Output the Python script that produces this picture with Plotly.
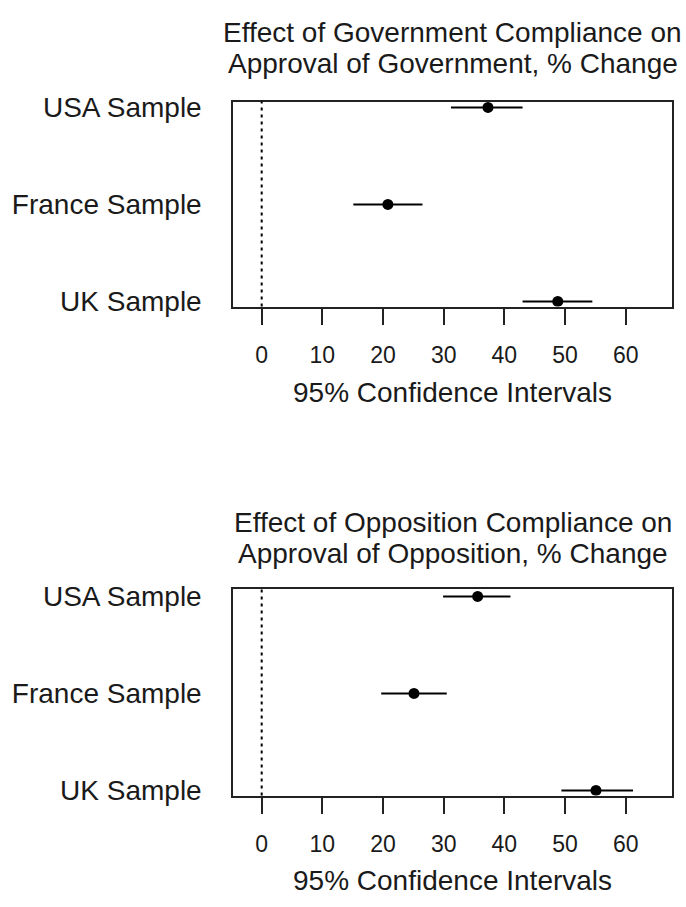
import plotly.graph_objects as go

W, H = 686, 907

samples = ["USA Sample", "France Sample", "UK Sample"]
ypos = [3, 2, 1]
x_ticks = [0, 10, 20, 30, 40, 50, 60]

gov_est = [37.3, 20.8, 48.8]
gov_lo = [31.2, 15.1, 43.0]
gov_hi = [43.0, 26.5, 54.5]

opp_est = [35.6, 25.1, 55.1]
opp_lo = [29.9, 19.7, 49.4]
opp_hi = [41.0, 30.5, 61.2]

titles_top = ["Effect of Government Compliance on", "Approval of Government, % Change"]
titles_bot = ["Effect of Opposition Compliance on", "Approval of Opposition, % Change"]
xlabel = "95% Confidence Intervals"

FONT = "Liberation Sans, Arial, sans-serif"
TXT = "#1a1a1a"

def py(pix):
    return 1 - pix / H

def px(pix):
    return pix / W

box_l, box_r = 233.3, 672.3
top_box = (94.7, 304.3)
bot_box = (593.0, 804.3)

fig = go.Figure()

for i, (est, lo, hi) in enumerate([(gov_est, gov_lo, gov_hi), (opp_est, opp_lo, opp_hi)]):
    xa = "x" if i == 0 else "x2"
    ya = "y" if i == 0 else "y2"
    fig.add_trace(go.Scatter(
        x=est, y=ypos, mode="markers", xaxis=xa, yaxis=ya,
        marker=dict(size=11, color="black"),
        error_x=dict(type="data", symmetric=False,
                     array=[h - e for h, e in zip(hi, est)],
                     arrayminus=[e - l for e, l in zip(est, lo)],
                     thickness=2, width=0, color="black"),
        showlegend=False, hoverinfo="skip"))
    fig.add_shape(type="line", xref=xa, yref=ya + " domain", x0=0, x1=0, y0=0, y1=1,
                  line=dict(color="black", width=2, dash="3px,4px"))

axis_common = dict(showline=True, mirror=True, linecolor="#222", linewidth=2,
                   showgrid=False, zeroline=False)

xcommon = dict(axis_common, range=[-4.68, 67.68], tickvals=x_ticks,
               ticks="outside", ticklen=16, tickwidth=2, tickcolor="#222",
               ticklabelstandoff=11,
               tickfont=dict(family=FONT, size=23, color=TXT),
               domain=[px(box_l), px(box_r)])
ycommon = dict(axis_common, tickvals=ypos, ticktext=samples, ticks="", ticklen=0,
               ticklabelstandoff=24,
               tickfont=dict(family=FONT, size=28, color=TXT))

fig.update_layout(
    width=W, height=H, margin=dict(l=0, r=0, t=0, b=0),
    paper_bgcolor="white", plot_bgcolor="white",
    xaxis=dict(xcommon, anchor="y"),
    yaxis=dict(ycommon, range=[0.947, 3.06], anchor="x",
               domain=[py(top_box[1]), py(top_box[0])]),
    xaxis2=dict(xcommon, anchor="y2"),
    yaxis2=dict(ycommon, range=[0.947, 3.078], anchor="x2",
                domain=[py(bot_box[1]), py(bot_box[0])]),
)

cx = px((box_l + box_r) / 2)
anns = []
for text, yc in [(titles_top[0], 24), (titles_top[1], 56),
                 (titles_bot[0], 525), (titles_bot[1], 556.5),
                 (xlabel, 392), (xlabel, 891.5)]:
    anns.append(dict(text=text, x=cx, y=py(yc), xref="paper", yref="paper",
                     xanchor="center", yanchor="middle", showarrow=False,
                     font=dict(family=FONT, size=28, color=TXT)))
fig.update_layout(annotations=anns)

fig.write_html("out.html")
